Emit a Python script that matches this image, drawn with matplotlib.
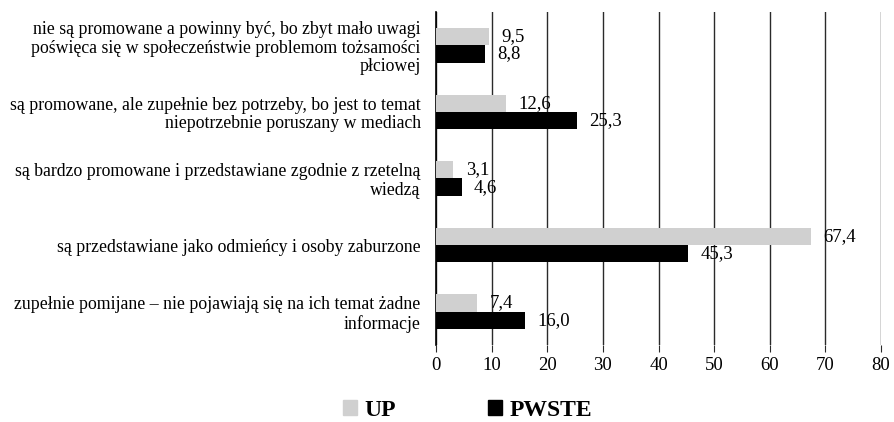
import matplotlib
matplotlib.use('Agg')
import matplotlib.pyplot as plt
import numpy as np
from matplotlib.patches import Patch

plt.rcParams['font.family'] = ['Liberation Serif', 'DejaVu Serif']

# dane z wykresu (od góry do dołu)
categories = [
    'nie są promowane a powinny być, bo zbyt mało uwagi\npoświęca się w społeczeństwie problemom tożsamości\npłciowej',
    'są promowane, ale zupełnie bez potrzeby, bo jest to temat\nniepotrzebnie poruszany w mediach',
    'są bardzo promowane i przedstawiane zgodnie z rzetelną\nwiedzą',
    'są przedstawiane jako odmieńcy i osoby zaburzone',
    'zupełnie pomijane – nie pojawiają się na ich temat żadne\ninformacje',
]
up_values = [9.5, 12.6, 3.1, 67.4, 7.4]
pwste_values = [8.8, 25.3, 4.6, 45.3, 16.0]
series_names = ['UP', 'PWSTE']
x_ticks = [0, 10, 20, 30, 40, 50, 60, 70, 80]

fig = plt.figure(figsize=(8.94, 4.22), dpi=100)
ax = fig.add_axes([0.4877, 0.1825, 0.4978, 0.7891])

y = np.arange(len(categories))
h = 0.26
up_c, pw_c = '#d0d0d0', '#000000'
ax.barh(y - h / 2, up_values, height=h, color=up_c, zorder=3)
ax.barh(y + h / 2, pwste_values, height=h, color=pw_c, zorder=3)

fmt = lambda v: f'{v:.1f}'.replace('.', ',')
for yi, v in zip(y, up_values):
    ax.annotate(fmt(v), (v, yi - h / 2), xytext=(9, 0), textcoords='offset points',
                va='center', ha='left', fontsize=13.5, zorder=4)
for yi, v in zip(y, pwste_values):
    ax.annotate(fmt(v), (v, yi + h / 2), xytext=(9, 0), textcoords='offset points',
                va='center', ha='left', fontsize=13.5, zorder=4)

ax.set_xlim(0, 80)
ax.set_ylim(len(categories) - 0.5, -0.5)
ax.set_xticks(x_ticks)
ax.set_yticks(y)
ax.set_yticklabels(categories, fontsize=12.8, linespacing=1.12)
ax.xaxis.grid(True, color='#2a2a2a', lw=1, zorder=0)
ax.tick_params(axis='y', length=0, pad=11)
ax.tick_params(axis='x', length=5, color='#2a2a2a', labelsize=13.5, pad=4)
for s in ['top', 'right', 'bottom']:
    ax.spines[s].set_visible(False)
ax.spines['left'].set_color('black')
ax.spines['left'].set_linewidth(1.2)

handles = [Patch(color=up_c), Patch(color=pw_c)]
fig.legend(handles, series_names, loc='center', bbox_to_anchor=(0.523, 0.027), ncol=2,
           frameon=False, prop={'weight': 'bold', 'size': 17}, handlelength=0.6,
           handleheight=0.6, handletextpad=0.3, columnspacing=3.9)

fig.savefig('out.png', dpi=100)
